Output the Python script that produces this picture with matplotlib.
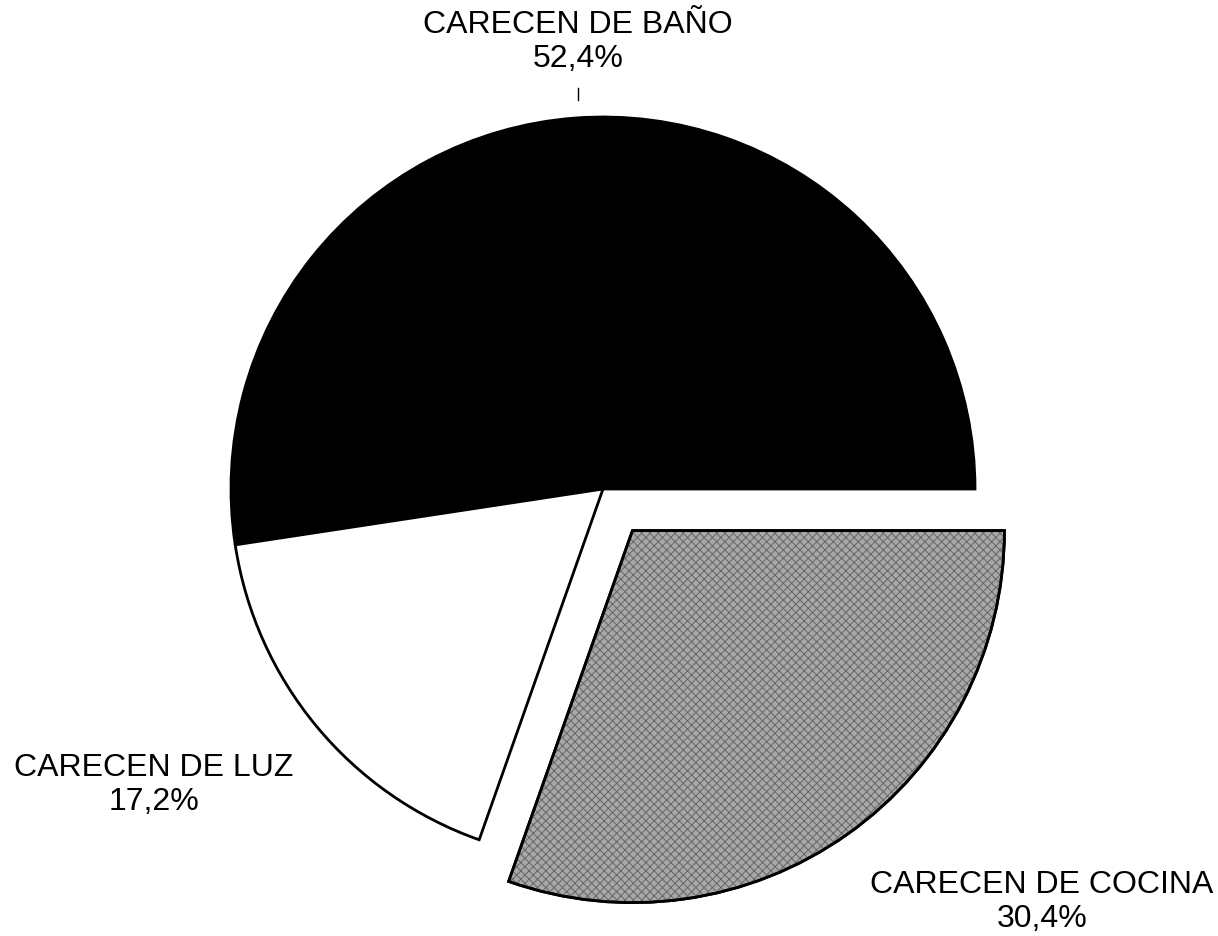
"""pie chart: hogares que carecen de servicios"""
import matplotlib
matplotlib.use("Agg")
import matplotlib.pyplot as plt
from matplotlib.patches import Wedge

plt.rcParams["font.family"] = ["Liberation Sans", "DejaVu Sans"]
plt.rcParams["hatch.linewidth"] = 0.7

# data
categorias = ["CARECEN DE BAÑO", "CARECEN DE LUZ", "CARECEN DE COCINA"]
valores = [52.4, 17.2, 30.4]
etiquetas = ["52,4%", "17,2%", "30,4%"]
colores = ["#000000", "#ffffff", "#a8a8a8"]
separacion = [0, 0, 0.137]  # fraction of the radius

W, H = 1218, 936
fig = plt.figure(figsize=(W / 100, H / 100), dpi=100)
ax = fig.add_axes([0, 0, 1, 1])

# pixel-like coordinates, y measured from bottom
cx, cy, r = 603, H - 489, 372
# pie's explode is in data units, so scale it by the radius
wedges, _ = ax.pie(valores, colors=colores, startangle=0, counterclock=True,
                   explode=[s * r for s in separacion], center=(cx, cy),
                   radius=r, wedgeprops=dict(edgecolor="black", linewidth=2))

# halftone look for the cocina slice
w = wedges[2]
textura = Wedge(w.center, w.r, w.theta1, w.theta2, facecolor="none",
                edgecolor="#666666", hatch="xxxx", linewidth=0)
ax.add_patch(textura)
ax.add_patch(Wedge(w.center, w.r, w.theta1, w.theta2, facecolor="none",
                   edgecolor="black", linewidth=2))

ax.set_xlim(0, W)
ax.set_ylim(0, H)
ax.set_aspect("auto")
ax.axis("off")

# labels
pos = [(578, 42), (154, 785), (1042, 902)]
for cat, pct, (x, y) in zip(categorias, etiquetas, pos):
    ax.text(x, H - y, cat + "\n" + pct, ha="center", va="center",
            fontsize=23, color="black", linespacing=1.2)

# small leader tick under the top label
ax.plot([578, 578], [H - 88, H - 100], color="black", lw=1)

fig.savefig("out.png", dpi=100)
